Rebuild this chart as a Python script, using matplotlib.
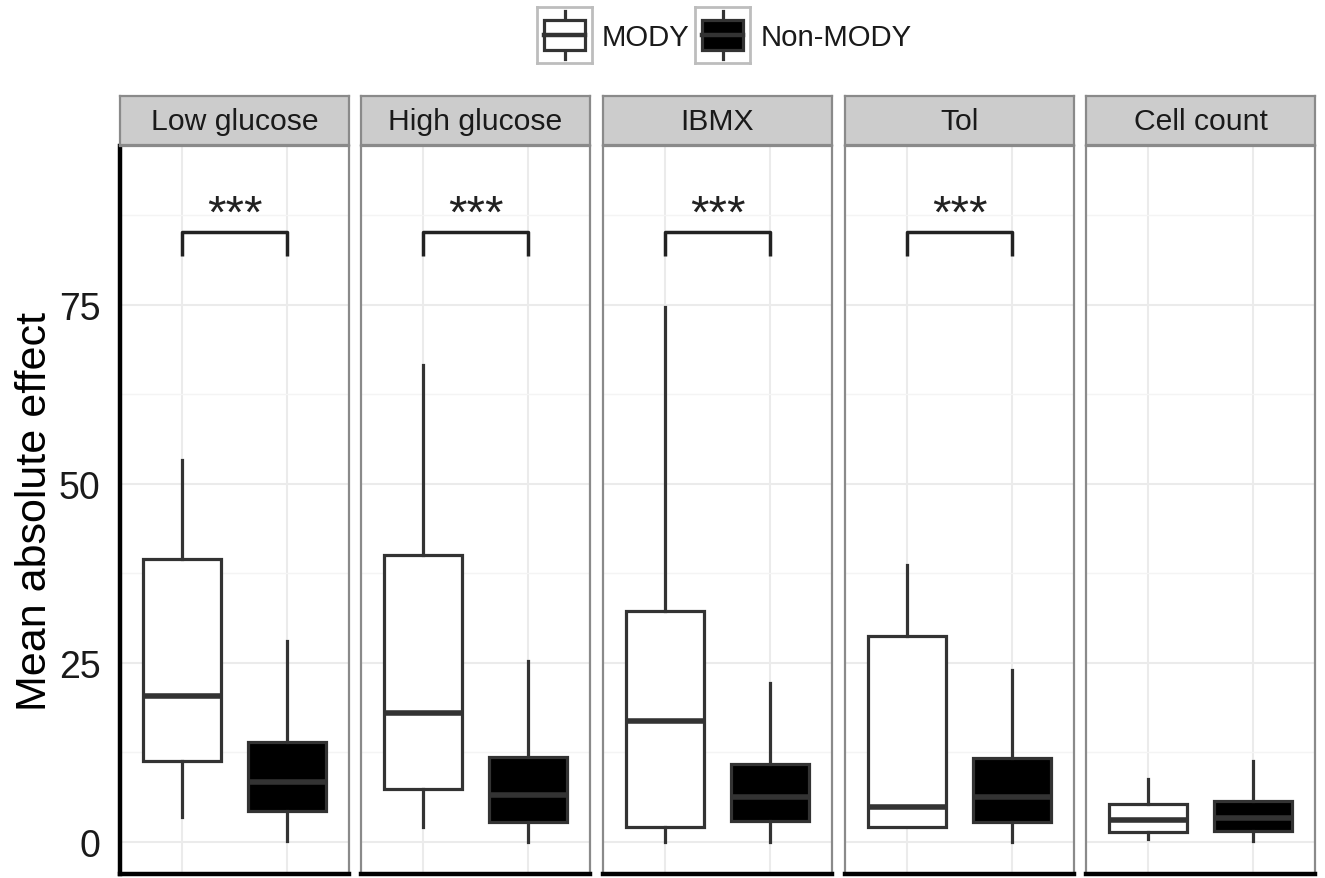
import matplotlib
matplotlib.use("Agg")
import matplotlib.pyplot as plt
from matplotlib.patches import Rectangle
from matplotlib.lines import Line2D

plt.rcParams['font.family'] = ['Liberation Sans', 'DejaVu Sans']

panels = ["Low glucose", "High glucose", "IBMX", "Tol", "Cell count"]
groups = ["MODY", "Non-MODY"]
# [whisker low, Q1, median, Q3, whisker high]
mody_stats = [
    [3.4, 11.3, 20.4, 39.5, 53.4],
    [2.1, 7.4, 18.0, 40.0, 66.6],
    [0.0, 2.1, 16.9, 32.3, 74.7],
    [2.0, 2.0, 4.8, 28.8, 38.6],
    [0.4, 1.4, 3.0, 5.3, 8.8],
]
nonmody_stats = [
    [0.1, 4.3, 8.4, 14.0, 28.1],
    [0.0, 2.7, 6.6, 11.9, 25.3],
    [0.0, 2.9, 6.3, 10.9, 22.2],
    [0.0, 2.8, 6.3, 11.7, 24.0],
    [0.1, 1.5, 3.3, 5.7, 11.3],
]
significance = ["***", "***", "***", "***", ""]
bracket_y = 85.2
bracket_drop = 3.4
y_ticks = [0, 25, 50, 75]
y_minor = [12.5, 37.5, 62.5, 87.5]
fills = {"MODY": "white", "Non-MODY": "black"}

W, H = 1325, 879
fig = plt.figure(figsize=(W / 100, H / 100), dpi=100)
fig.patch.set_facecolor("white")

panel_left = [120, 361, 603, 845, 1086]
panel_w = 229
top_px, bot_px = 147, 875
strip_top = 97
edge = "#333333"
border = "#8a8a8a"

def fx(px):
    return px / W

def fy(py):
    return 1 - py / H

for i, name in enumerate(panels):
    ax = fig.add_axes([fx(panel_left[i]), fy(bot_px), panel_w / W, (bot_px - top_px) / H])
    stats = []
    for g, s in zip(groups, [mody_stats[i], nonmody_stats[i]]):
        stats.append(dict(whislo=s[0], q1=s[1], med=s[2], q3=s[3], whishi=s[4], fliers=[], label=g))
    bp = ax.bxp(stats, positions=[1, 2], widths=0.75, patch_artist=True, showcaps=False,
                boxprops=dict(edgecolor=edge, linewidth=2.3),
                whiskerprops=dict(color=edge, linewidth=2.3),
                medianprops=dict(color=edge, linewidth=4.0, solid_capstyle='butt'),
                zorder=3)
    for patch, g in zip(bp['boxes'], groups):
        patch.set_facecolor(fills[g])
    ax.set_xlim(0.4, 2.6)
    ax.set_ylim(-4.5, 97.2)
    ax.set_yticks(y_ticks)
    ax.set_yticks(y_minor, minor=True)
    ax.set_xticks([1, 2])
    ax.set_xticklabels([])
    ax.grid(True, which='major', color='#ebebeb', linewidth=1.5, zorder=0)
    ax.grid(True, which='minor', axis='y', color='#f4f4f4', linewidth=1.0, zorder=0)
    ax.tick_params(axis='both', which='both', length=0)
    if i == 0:
        ax.set_yticklabels([str(t) for t in y_ticks], fontsize=27, color='#1a1a1a')
        ax.tick_params(axis='y', pad=14)
        ax.set_ylabel("Mean absolute effect", fontsize=31, color='black', labelpad=3)
        ax.spines['left'].set_color('black')
        ax.spines['left'].set_linewidth(3.2)
    else:
        ax.set_yticklabels([])
        ax.spines['left'].set_color(border)
        ax.spines['left'].set_linewidth(1.6)
    ax.spines['bottom'].set_color('black')
    ax.spines['bottom'].set_linewidth(3.2)
    for sp in ['right', 'top']:
        ax.spines[sp].set_color(border)
        ax.spines[sp].set_linewidth(1.6)
    if significance[i]:
        ax.plot([1, 1, 2, 2], [bracket_y - bracket_drop, bracket_y, bracket_y, bracket_y - bracket_drop],
                color='#222222', linewidth=2.5, solid_capstyle='butt', zorder=4)
        ax.text(1.5, bracket_y + 0.7, significance[i], ha='center', va='baseline', fontsize=34, color='#222222')

    sax = fig.add_axes([fx(panel_left[i]), fy(top_px - 1), panel_w / W, (top_px - 1 - strip_top) / H])
    sax.set_facecolor('#cccccc')
    sax.set_xticks([])
    sax.set_yticks([])
    for sp in sax.spines.values():
        sp.set_color(border)
        sp.set_linewidth(1.6)
    sax.text(0.5, 0.5, name, ha='center', va='center', fontsize=21.7, color='#1a1a1a', transform=sax.transAxes)

# legend
def legend_key(x0, fill):
    k = fig.add_axes([fx(x0), fy(64), 55 / W, 56 / H])
    k.set_xlim(0, 1)
    k.set_ylim(0, 1)
    k.set_xticks([])
    k.set_yticks([])
    for sp in k.spines.values():
        sp.set_color('#bdbdbd')
        sp.set_linewidth(2.0)
    k.add_line(Line2D([0.5, 0.5], [0.08, 0.92], color=edge, linewidth=2.3))
    k.add_patch(Rectangle((0.12, 0.24), 0.76, 0.52, facecolor=fill, edgecolor=edge, linewidth=2.3, zorder=3))
    k.add_line(Line2D([0.12, 0.88], [0.5, 0.5], color=edge, linewidth=3.2, zorder=4))

legend_key(537, fills["MODY"])
fig.text(fx(602), fy(38), groups[0], ha='left', va='center', fontsize=21.2, color='#1a1a1a')
legend_key(695, fills["Non-MODY"])
fig.text(fx(761), fy(38), groups[1], ha='left', va='center', fontsize=21.2, color='#1a1a1a')

fig.savefig("out.png", dpi=100)
